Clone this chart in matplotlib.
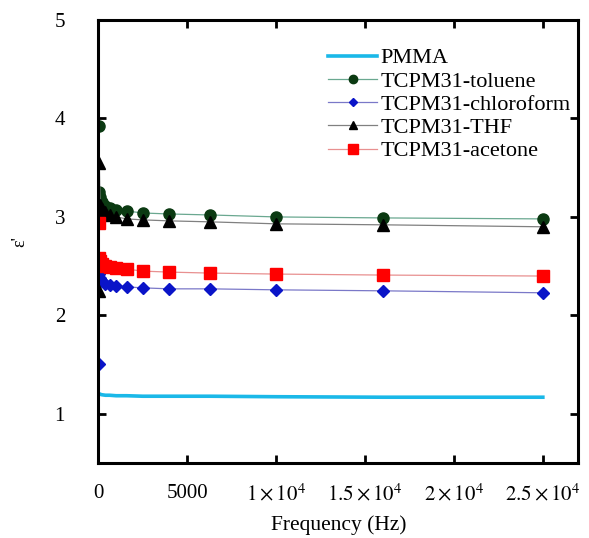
import matplotlib
matplotlib.use('Agg')
import matplotlib.pyplot as plt

# dielectric constant vs frequency
freq = [20, 50, 100, 200, 400, 630, 1000, 1600, 2500, 4000, 6300, 10000, 16000, 25000]
pmma = [1.21, 1.205, 1.20, 1.195, 1.19, 1.19, 1.185, 1.185, 1.18, 1.18, 1.18, 1.175, 1.17, 1.17]
toluene = [3.92, 3.25, 3.20, 3.15, 3.11, 3.09, 3.07, 3.06, 3.04, 3.03, 3.02, 3.00, 2.99, 2.98]
chloroform = [1.51, 2.42, 2.38, 2.35, 2.32, 2.31, 2.30, 2.29, 2.28, 2.27, 2.27, 2.26, 2.25, 2.23]
thf = [2.25, 3.55, 3.12, 3.08, 3.05, 3.02, 3.00, 2.98, 2.97, 2.96, 2.95, 2.93, 2.92, 2.90]
acetone = [2.94, 2.58, 2.55, 2.52, 2.50, 2.49, 2.48, 2.47, 2.45, 2.44, 2.43, 2.42, 2.41, 2.40]

xticks = [0, 5000, 10000, 15000, 20000, 25000]
xticklabels = ['0', '5000', r'$1\times10^4$', r'$1.5\times10^4$', r'$2\times10^4$', r'$2.5\times10^4$']
yticks = [1, 2, 3, 4, 5]

plt.rcParams['font.family'] = ['Liberation Serif', 'DejaVu Serif']
plt.rcParams['mathtext.fontset'] = 'stix'

fig = plt.figure(figsize=(5.89, 5.38), dpi=100)
ax = fig.add_axes([0.167, 0.139, 0.815, 0.824])

ax.plot(freq, pmma, color='#1ab8e8', lw=2.6, label='PMMA')
ax.plot(freq, toluene, color='#6aa890', lw=0.9, marker='o', ms=8,
        mfc='#0b3a12', mec='#0b3a12', label='TCPM31-toluene')
ax.plot(freq, chloroform, color='#7a78c8', lw=0.9, marker='D', ms=6,
        mfc='#0a14c8', mec='#0a14c8', label='TCPM31-chloroform')
ax.plot(freq, thf, color='#808080', lw=0.9, marker='^', ms=8,
        mfc='black', mec='black', label='TCPM31-THF')
ax.plot(freq, acetone, color='#e89090', lw=0.9, marker='s', ms=9,
        mfc='#ff0000', mec='#ff0000', label='TCPM31-acetone')

ax.set_xlim(0, 27000)
ax.set_ylim(0.5, 5)
ax.set_xticks(xticks)
ax.set_xticklabels(xticklabels)
ax.set_yticks(yticks)
ax.tick_params(direction='in', length=6, width=2, labelsize=15,
               top=True, right=True)
ax.tick_params(axis='y', pad=24)
ax.tick_params(axis='x', pad=15)
for sp in ax.spines.values():
    sp.set_linewidth(2.2)

ax.set_xlabel('Frequency (Hz)', fontsize=15.5, labelpad=7)
ax.set_ylabel("ε'", fontsize=13, labelpad=19)

ax.legend(loc='upper left', bbox_to_anchor=(0.479, 0.937), frameon=False,
          fontsize=16, handlelength=2.2, handletextpad=0.15, labelspacing=0.12,
          borderaxespad=0, borderpad=0, markerscale=0.75)

fig.savefig('out.png', dpi=100)
